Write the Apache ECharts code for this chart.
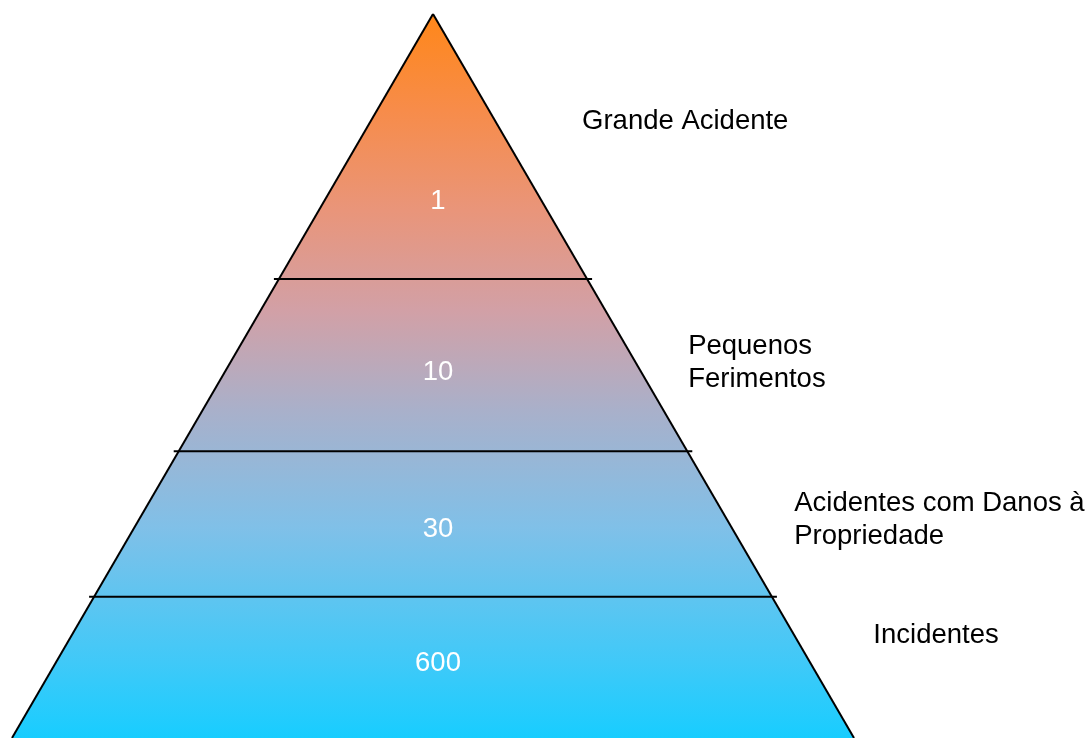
<!DOCTYPE html>
<html>
<head>
<meta charset="utf-8">
<style>
  html, body { margin: 0; padding: 0; background: #ffffff; }
  #chart { width: 1089px; height: 738px; }
</style>
<script src="https://cdn.jsdelivr.net/npm/echarts@6/dist/echarts.min.js"></script>
</head>
<body>
<div id="chart"></div>
<script>
// Accident pyramid tiers, from the apex down to the base
const tierNames = ['Grande Acidente', 'Pequenos\nFerimentos', 'Acidentes com Danos à\nPropriedade', 'Incidentes'];
const tierValues = [1, 10, 30, 600];
// Lower edge of each tier, as % of the pyramid height measured from the apex
const tierBottoms = [36.6, 60.4, 80.5, 100];
// Depth (axis units) at which each tier's value is written
const valueDepths = [25.83, 49.45, 71.14, 89.64];
// Anchor of each tier's name text: [x, depth] in axis units
const nameAnchors = [[17.7, 14.78], [30.3, 48.18], [42.9, 69.85], [52.3, 85.88]];

// Fill colours along the height of the pyramid (apex -> base)
const fillStops = [
  { offset: 0.000, color: '#FF8719' },
  { offset: 0.133, color: '#F78C4A' },
  { offset: 0.271, color: '#E9957A' },
  { offset: 0.409, color: '#D2A0A6' },
  { offset: 0.547, color: '#A9B0CA' },
  { offset: 0.709, color: '#80C0E8' },
  { offset: 0.894, color: '#40C9F8' },
  { offset: 1.000, color: '#18CDFF' }
];

const FONT = '"Liberation Sans", Arial, Helvetica, sans-serif';

function renderTier(params, api) {
  const i = params.dataIndex;
  const top = i === 0 ? 0 : tierBottoms[i - 1];
  const bot = tierBottoms[i];
  // half-width of the pyramid at depth d is d / 2 in x units
  const tl = api.coord([-top / 2, top]);
  const tr = api.coord([top / 2, top]);
  const br = api.coord([bot / 2, bot]);
  const bl = api.coord([-bot / 2, bot]);
  const apex = api.coord([0, 0]);
  const base = api.coord([0, 100]);

  const gradient = new echarts.graphic.LinearGradient(0, apex[1], 0, base[1], fillStops, true);

  const children = [
    {
      type: 'polygon',
      shape: { points: [tl, tr, br, bl] },
      style: { fill: gradient, stroke: null }
    },
    {
      type: 'line',
      shape: { x1: tl[0], y1: tl[1], x2: bl[0], y2: bl[1] },
      style: { stroke: '#000', lineWidth: 2 }
    },
    {
      type: 'line',
      shape: { x1: tr[0], y1: tr[1], x2: br[0], y2: br[1] },
      style: { stroke: '#000', lineWidth: 2 }
    }
  ];

  if (i > 0) {
    children.push({
      type: 'line',
      shape: { x1: tl[0] - 5, y1: tl[1], x2: tr[0] + 5, y2: tr[1] },
      style: { stroke: '#000', lineWidth: 2 }
    });
  }

  // value label inside the tier
  const vp = api.coord([0, valueDepths[i]]);
  children.push({
    type: 'text',
    x: vp[0] + 5,
    y: vp[1],
    style: {
      text: String(api.value(1)),
      fill: '#ffffff',
      font: '27.5px ' + FONT,
      align: 'center',
      verticalAlign: 'middle'
    }
  });

  const np = api.coord(nameAnchors[i]);
  children.push({
    type: 'text',
    x: np[0],
    y: np[1],
    style: {
      text: tierNames[i],
      fill: '#000000',
      font: '27.5px ' + FONT,
      lineHeight: 33,
      align: 'left',
      verticalAlign: 'middle'
    }
  });

  return { type: 'group', children: children };
}

const chart = echarts.init(document.getElementById('chart'), null, { renderer: 'canvas' });
chart.setOption({
  animation: false,
  backgroundColor: '#ffffff',
  grid: { left: 12, right: 235, top: 14, bottom: 0 },
  xAxis: { type: 'value', min: -50, max: 50, show: false },
  yAxis: { type: 'value', min: 0, max: 100, inverse: true, show: false },
  series: [{
    type: 'custom',
    clip: false,
    renderItem: renderTier,
    encode: { x: -1, y: -1 },
    data: tierValues.map((v, i) => ({ name: tierNames[i], value: [i, v] }))
  }]
});
</script>
</body>
</html>
